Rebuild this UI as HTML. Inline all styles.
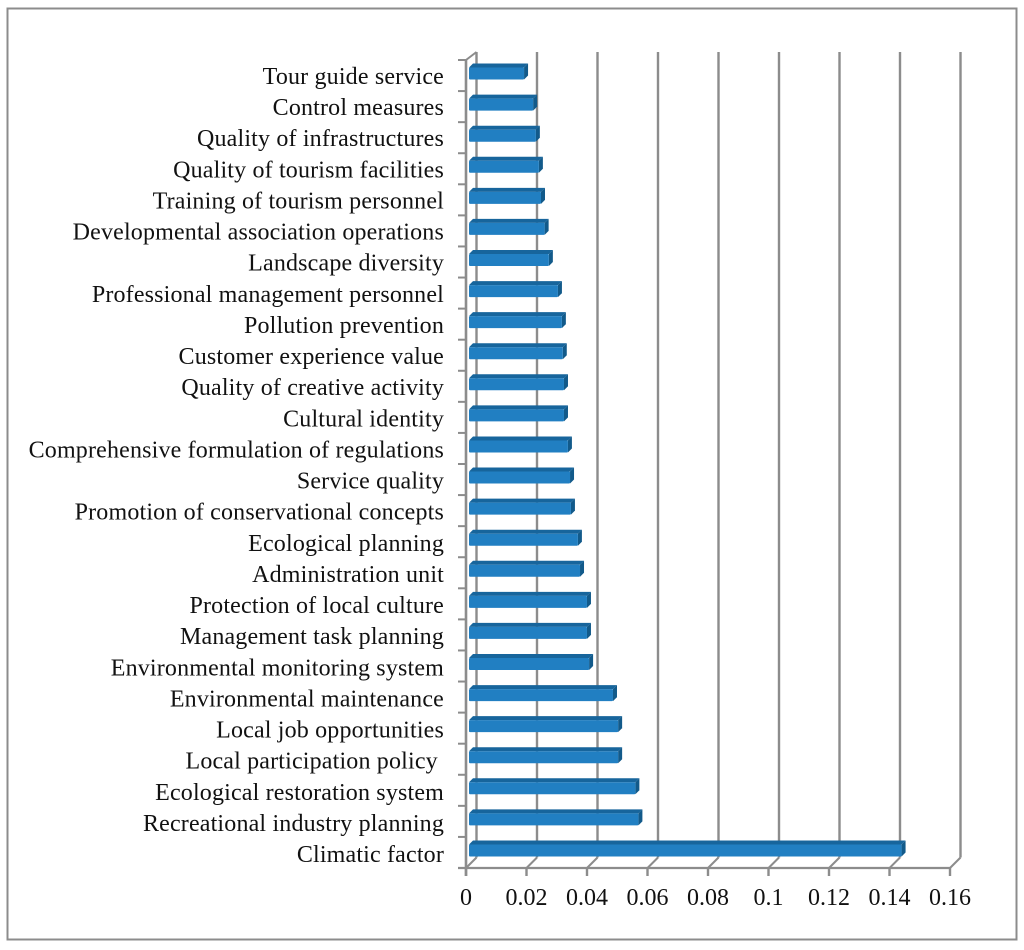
<!DOCTYPE html>
<html lang="en">
<head>
<meta charset="utf-8">
<title>Factor weights chart</title>
<style>
html,body{margin:0;padding:0;background:#fff;}
body{width:1024px;height:950px;overflow:hidden;}
svg{display:block;}
text{font-family:"Liberation Serif",serif;fill:#111;font-size:24px;white-space:pre;}
</style>
</head>
<body>
<svg id="chart" width="1024" height="950" viewBox="0 0 1024 950" xmlns="http://www.w3.org/2000/svg">
<rect x="7.5" y="8.5" width="1009" height="931" fill="#fff" stroke="#8c8c8c" stroke-width="2"/>
</svg>
<script>
const categories = ["Tour guide service","Control measures","Quality of infrastructures","Quality of tourism facilities","Training of tourism personnel","Developmental association operations","Landscape diversity","Professional management personnel","Pollution prevention","Customer experience value","Quality of creative activity","Cultural identity","Comprehensive formulation of regulations","Service quality","Promotion of conservational concepts","Ecological planning","Administration unit","Protection of local culture","Management task planning","Environmental monitoring system","Environmental maintenance","Local job opportunities","Local participation policy ","Ecological restoration system","Recreational industry planning","Climatic factor"];
const values = [0.0182,0.0212,0.0221,0.0231,0.0238,0.025,0.0264,0.0294,0.0307,0.031,0.0314,0.0314,0.0327,0.0334,0.0337,0.036,0.0367,0.039,0.039,0.0397,0.0476,0.0493,0.0493,0.055,0.056,0.143];
const tickValues = [0,0.02,0.04,0.06,0.08,0.1,0.12,0.14,0.16];
const tickLabels = ["0","0.02","0.04","0.06","0.08","0.1","0.12","0.14","0.16"];

const NS = "http://www.w3.org/2000/svg";
const svg = document.getElementById("chart");
const X0 = 466, XK = 3025, YTOP = 60, YBOTTOM = 868, DEPTH = 10.5, GRID = "#8c8c8c";
function xScale(v){ return X0 + v * XK; }
function bandTop(i){ return YTOP + i * (YBOTTOM - YTOP) / categories.length; }
function bandCenter(i){ return bandTop(i) + (YBOTTOM - YTOP) / categories.length / 2; }
function make(tag, attrs, parent){
  const el = document.createElementNS(NS, tag);
  for (const k in attrs) el.setAttribute(k, attrs[k]);
  (parent || svg).appendChild(el);
  return el;
}
function gridLine(x1, y1, x2, y2, name, w){
  const el = make("line", {x1:x1, y1:y1, x2:x2, y2:y2, stroke:GRID, "stroke-width":w || 2.4});
  
  
  return el;
}

tickValues.forEach(function(t, i){
  const x = xScale(t);
  gridLine(x + DEPTH, YTOP - 8, x + DEPTH, YBOTTOM - DEPTH, "gridline-" + tickLabels[i]);
  gridLine(x, YBOTTOM, x + DEPTH, YBOTTOM - DEPTH, "floor-line-" + tickLabels[i], 2);
  gridLine(x, YBOTTOM, x, YBOTTOM + 8, "x-tick-" + tickLabels[i]);
  const label = make("text", {x: x, y: 905, "text-anchor":"middle"});
  label.textContent = tickLabels[i];
  
  
});
gridLine(X0, YTOP, X0, YBOTTOM + 8, "y-axis-line", 2.6);
gridLine(X0, YTOP, X0 + DEPTH, YTOP - 8, "side-wall-top-line", 2);
gridLine(X0 - 8, YBOTTOM, xScale(0.16), YBOTTOM, "x-axis-line", 2.2);
categories.forEach(function(c, i){
  gridLine(X0 - 8, bandTop(i), X0, bandTop(i), "y-tick", 2);
});

categories.forEach(function(c, i){
  const cy = bandCenter(i) - 4;
  const d = 4, frontTop = cy - 4, frontH = 12;
  const left = xScale(0) + 3, right = left + values[i] * XK;
  const g = make("g", {});
  
  
  make("polygon", {points:[left,frontTop, left+d,frontTop-d, right+d,frontTop-d, right,frontTop].join(" "), fill:"#17659c"}, g);
  make("polygon", {points:[right,frontTop, right+d,frontTop-d, right+d,frontTop+frontH-d, right,frontTop+frontH].join(" "), fill:"#125a8a"}, g);
  make("rect", {x:left, y:frontTop, width:right-left, height:frontH, rx:1, fill:"#217fc2"}, g);

  const label = make("text", {x:444, y:84 + i * 31.12, "text-anchor":"end", "letter-spacing":"0.17"});
  label.textContent = c;
  
  
});
</script>
</body>
</html>
